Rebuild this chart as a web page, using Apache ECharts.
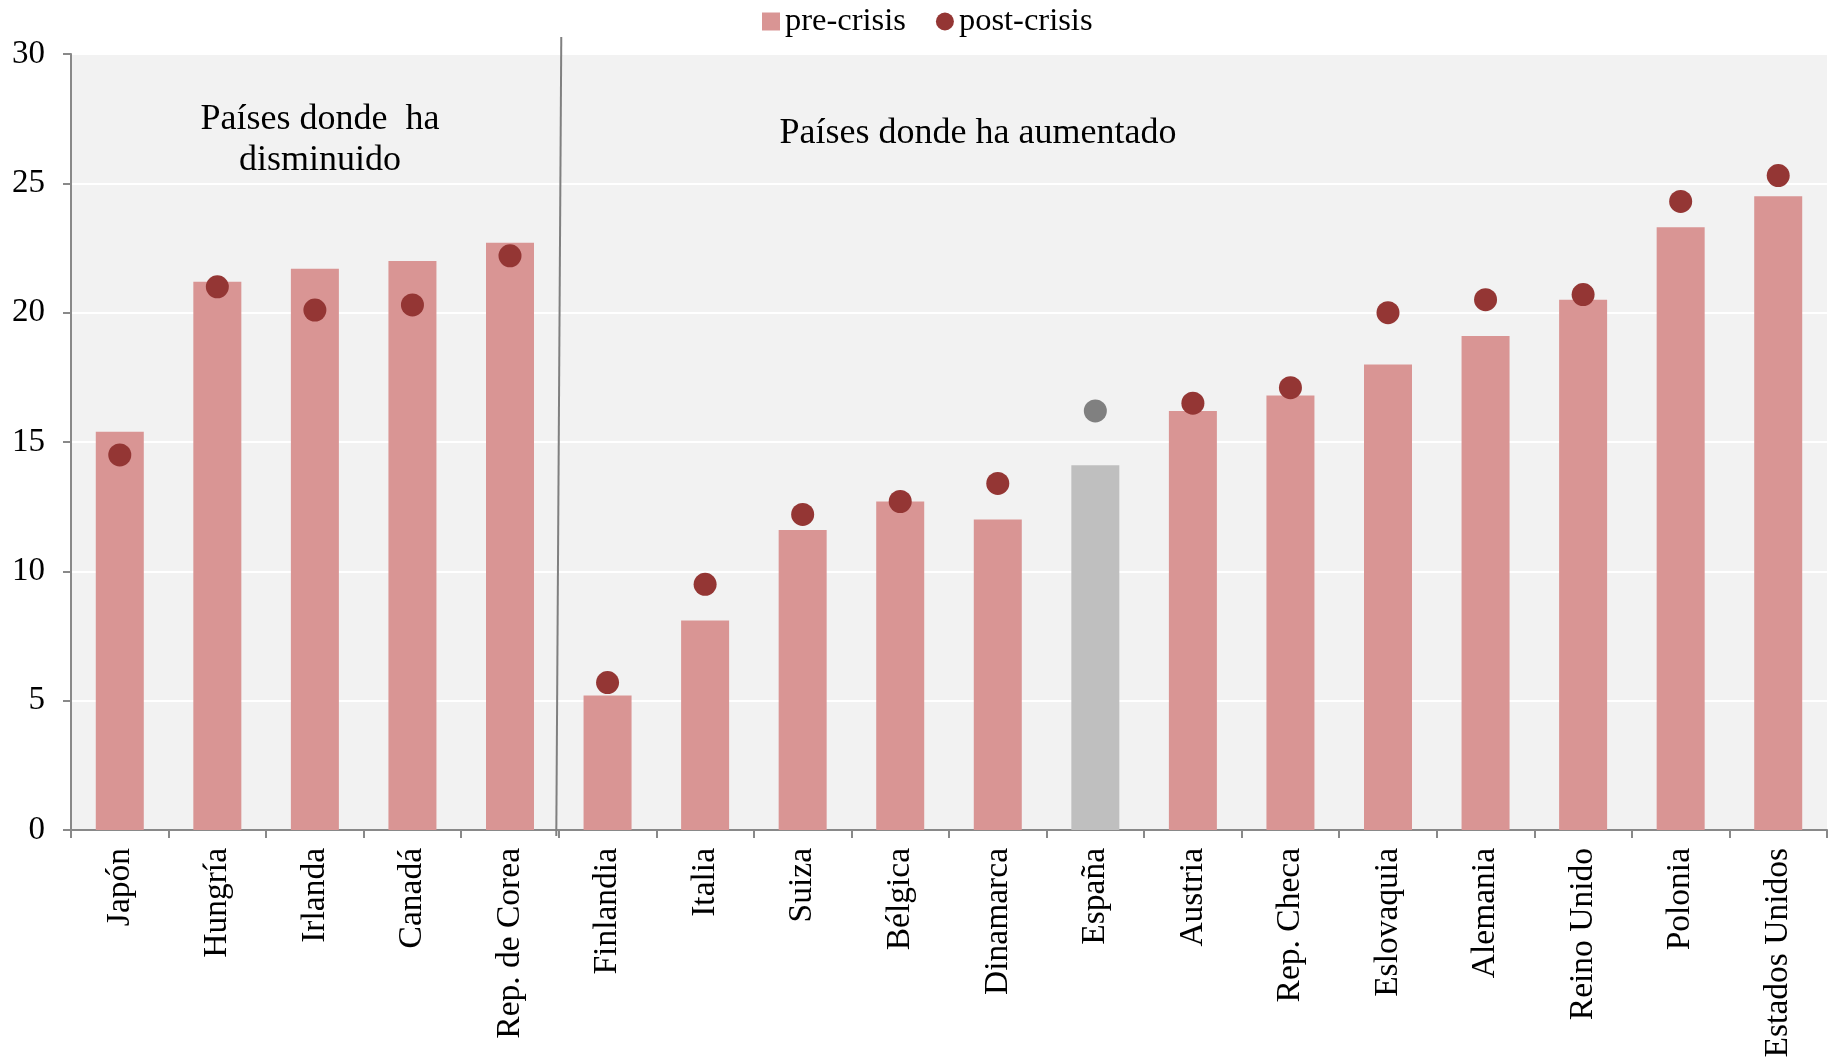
<!DOCTYPE html>
<html>
<head>
<meta charset="utf-8">
<script src="https://cdn.jsdelivr.net/npm/echarts@6/dist/echarts.min.js"></script>
<style>
html,body{margin:0;padding:0;background:#fff;}
#chart{width:1829px;height:1061px;}
</style>
</head>
<body>
<div id="chart"></div>
<script>
const categories = ["Japón","Hungría","Irlanda","Canadá","Rep. de Corea","Finlandia","Italia","Suiza","Bélgica","Dinamarca","España","Austria","Rep. Checa","Eslovaquia","Alemania","Reino Unido","Polonia","Estados Unidos"];
const preCrisis = [15.4,21.2,21.7,22.0,22.7,5.2,8.1,11.6,12.7,12.0,14.1,16.2,16.8,18.0,19.1,20.5,23.3,24.5];
const postCrisis = [14.5,21.0,20.1,20.3,22.2,5.7,9.5,12.2,12.7,13.4,16.2,16.5,17.1,20.0,20.5,20.7,24.3,25.3];
const yTicks = [0,5,10,15,20,25,30];
const highlight = "España";
const groupLabels = ["Países donde  ha\ndisminuido","Países donde ha aumentado"];

const FONT = '"Liberation Serif","Times New Roman",serif';
const BAR = '#D99594', DOT = '#943634', HBAR = '#BFBFBF', HDOT = '#808080';

const chart = echarts.init(document.getElementById('chart'));
const barData = preCrisis.map((v,i)=> categories[i]===highlight ? {value:v,itemStyle:{color:HBAR}} : v);
const dotData = postCrisis.map((v,i)=> categories[i]===highlight ? {value:v,itemStyle:{color:HDOT,opacity:1}} : v);

chart.setOption({
  animation:false,
  backgroundColor:'#fff',
  textStyle:{fontFamily:FONT},
  legend:{
    top:0, left:757,
    itemGap:30, itemWidth:18, itemHeight:18,
    textStyle:{fontFamily:FONT,fontSize:32.5,color:'#000'},
    data:[{name:'pre-crisis',icon:'rect'},{name:'post-crisis',icon:'circle'}]
  },
  grid:{left:71,right:2,top:54,bottom:231,show:true,backgroundColor:'#F2F2F2',borderWidth:0},
  xAxis:{
    type:'category', data:categories, boundaryGap:true,
    axisLine:{lineStyle:{color:'#898989',width:2}},
    axisTick:{show:true,length:8,lineStyle:{color:'#898989',width:2}},
    axisLabel:{rotate:90,margin:18,fontFamily:FONT,fontSize:33.5,color:'#000',interval:0}
  },
  yAxis:{
    type:'value', min:yTicks[0], max:yTicks[yTicks.length-1], interval:5,
    axisLine:{show:true,lineStyle:{color:'#898989',width:2}},
    axisTick:{show:true,length:8,lineStyle:{color:'#898989',width:2}},
    axisLabel:{margin:26,fontFamily:FONT,fontSize:33,color:'#000'},
    splitLine:{show:true,lineStyle:{color:'#FFFFFF',width:2}}
  },
  series:[
    {name:'pre-crisis',type:'bar',data:barData,barWidth:48,itemStyle:{color:BAR,opacity:1},z:2},
    {name:'post-crisis',type:'scatter',data:dotData,symbol:'circle',symbolSize:23,itemStyle:{color:DOT,opacity:1},z:5}
  ]
});

// divider line between groups and group labels
const p4 = chart.convertToPixel({xAxisIndex:0},4);
const p5 = chart.convertToPixel({xAxisIndex:0},5);
const mid = (p4+p5)/2;
const yTop = chart.convertToPixel({yAxisIndex:0},30);
const yBot = chart.convertToPixel({yAxisIndex:0},0);
chart.setOption({
  graphic:[
    {type:'line',shape:{x1:mid+2.5,y1:yTop-17,x2:mid-2.5,y2:yBot+6},style:{stroke:'#808080',lineWidth:2},z:10},
    {type:'text',style:{text:groupLabels[0],font:'36px '+FONT,fill:'#000',textAlign:'center',textVerticalAlign:'middle',lineHeight:41,x:320,y:140},z:10},
    {type:'text',style:{text:groupLabels[1],font:'36px '+FONT,fill:'#000',textAlign:'center',textVerticalAlign:'middle',x:978,y:134},z:10}
  ]
});
</script>
</body>
</html>
